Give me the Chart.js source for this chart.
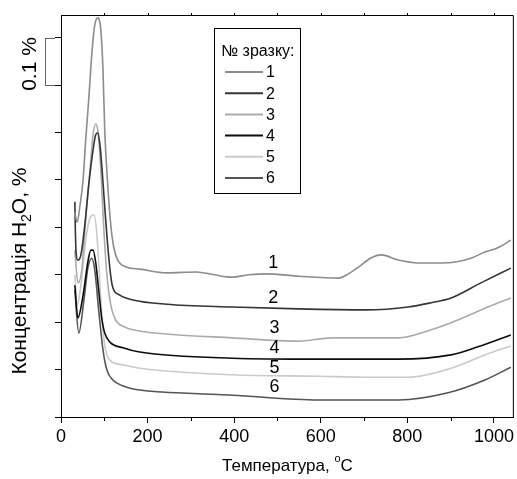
<!DOCTYPE html>
<html><head><meta charset="utf-8">
<script src="https://cdn.jsdelivr.net/npm/chart.js@4"></script>
<style>html,body{margin:0;padding:0;background:#fff}</style>
</head><body>
<canvas id="c" width="517" height="479"></canvas>
<script>
// ---- data (temperature °C, H2O concentration in % with vertical offsets) ----
const seriesNames = ['1', '2', '3', '4', '5', '6'];
const xTicks = [0, 200, 400, 600, 800, 1000];

const temps1 = [32, 37, 44, 51, 57, 64, 71, 78, 85, 92, 97, 101, 108, 115, 122, 131, 152, 182, 244, 313, 354, 395, 434, 474, 549, 641, 664, 687, 715, 740, 779, 825, 871, 910, 947, 979, 1009, 1039];
const conc1  = [0.432, 0.411, 0.447, 0.500, 0.584, 0.669, 0.764, 0.827, 0.842, 0.816, 0.732, 0.605, 0.489, 0.405, 0.357, 0.331, 0.316, 0.312, 0.304, 0.306, 0.300, 0.295, 0.300, 0.302, 0.297, 0.293, 0.302, 0.316, 0.335, 0.342, 0.331, 0.325, 0.325, 0.327, 0.335, 0.348, 0.357, 0.373];

const temps2 = [32, 33, 35, 39, 46, 55, 64, 74, 80, 85, 90, 95, 101, 110, 116, 120, 136, 166, 244, 395, 549, 703, 802, 855, 901, 970, 1039];
const conc2  = [0.454, 0.400, 0.345, 0.331, 0.342, 0.405, 0.489, 0.563, 0.595, 0.599, 0.574, 0.520, 0.443, 0.340, 0.290, 0.272, 0.257, 0.247, 0.238, 0.232, 0.228, 0.226, 0.232, 0.241, 0.251, 0.283, 0.314];

const temps3 = [32, 39, 48, 57, 67, 74, 80, 85, 92, 99, 106, 115, 126, 147, 166, 244, 395, 549, 625, 779, 855, 933, 986, 1039];
const conc3  = [0.352, 0.283, 0.310, 0.416, 0.521, 0.595, 0.618, 0.605, 0.521, 0.395, 0.300, 0.236, 0.205, 0.190, 0.184, 0.175, 0.167, 0.160, 0.167, 0.167, 0.184, 0.211, 0.232, 0.251];

const temps4 = [32, 39, 51, 62, 69, 74, 80, 87, 94, 101, 113, 143, 182, 395, 595, 779, 901, 963, 1039];
const conc4  = [0.278, 0.209, 0.257, 0.327, 0.352, 0.352, 0.327, 0.268, 0.209, 0.177, 0.158, 0.146, 0.137, 0.124, 0.122, 0.122, 0.131, 0.148, 0.173];

const temps5 = [32, 37, 46, 57, 67, 76, 83, 90, 97, 103, 113, 143, 182, 395, 595, 703, 802, 901, 979, 1039];
const conc5  = [0.300, 0.236, 0.278, 0.373, 0.420, 0.426, 0.384, 0.278, 0.184, 0.141, 0.120, 0.110, 0.103, 0.089, 0.086, 0.084, 0.084, 0.103, 0.131, 0.150];

const temps6 = [32, 41, 53, 62, 71, 78, 87, 97, 106, 120, 152, 182, 320, 395, 595, 779, 894, 979, 1039];
const conc6  = [0.268, 0.177, 0.247, 0.314, 0.335, 0.310, 0.226, 0.141, 0.099, 0.078, 0.063, 0.057, 0.049, 0.046, 0.036, 0.036, 0.051, 0.078, 0.105];

// curve label anchors (data space)
const labelTemps = [490, 490, 493, 493, 493, 493];
const labelConc  = [0.325, 0.251, 0.188, 0.146, 0.103, 0.063];

// ---- styling ----
const FONT = '"Liberation Sans", Arial, sans-serif';
const colors = ['#8c8c8c', '#353535', '#ababab', '#0c0c0c', '#cacaca', '#555555'];
const allT = [temps1, temps2, temps3, temps4, temps5, temps6];
const allC = [conc1, conc2, conc3, conc4, conc5, conc6];

const datasets = allT.map((t, k) => ({
  label: seriesNames[k],
  data: t.map((v, i) => ({x: v, y: allC[k][i]})),
  borderColor: colors[k],
  borderWidth: 1.6,
  pointRadius: 0,
  fill: false,
  cubicInterpolationMode: 'monotone'
}));

// draws text pieces (with sub/superscripts) centred on cx, baseline at cy (in rotated frame)
function drawRich(ctx, parts, cx, cy, rot) {
  ctx.save();
  ctx.translate(cx, cy);
  if (rot) ctx.rotate(rot);
  let W = 0;
  parts.forEach(p => { ctx.font = p.size + 'px ' + FONT; p.w = ctx.measureText(p.t).width; W += p.w; });
  let xx = -W / 2;
  ctx.textBaseline = 'alphabetic';
  ctx.textAlign = 'left';
  parts.forEach(p => { ctx.font = p.size + 'px ' + FONT; ctx.fillText(p.t, xx, p.dy || 0); xx += p.w; });
  ctx.restore();
}

const deco = {
  id: 'deco',
  afterDraw(chart) {
    const {ctx, chartArea: a, scales: {x, y}} = chart;
    ctx.save();
    ctx.strokeStyle = '#000';
    ctx.lineWidth = 1;
    // top and right frame
    ctx.beginPath();
    ctx.moveTo(a.left, a.top + 0.5); ctx.lineTo(a.right - 0.5, a.top + 0.5); ctx.lineTo(a.right - 0.5, a.bottom);
    ctx.stroke();
    // minor ticks on bottom, small ticks on top
    ctx.beginPath();
    for (let v = 100; v <= 1000; v += 200) {
      const px = Math.round(x.getPixelForValue(v)) + 0.5;
      ctx.moveTo(px, a.bottom); ctx.lineTo(px, a.bottom + 4);
    }
    for (let v = 100; v <= 1000; v += 100) {
      const px = Math.round(x.getPixelForValue(v)) + 0.5;
      ctx.moveTo(px, a.top); ctx.lineTo(px, a.top - 2);
    }
    ctx.stroke();
    // scale bar 0.1 %
    const yb1 = Math.round(y.getPixelForValue(0.8)) + 0.5, yb2 = Math.round(y.getPixelForValue(0.7)) + 0.5;
    ctx.strokeStyle = '#666';
    ctx.beginPath();
    ctx.moveTo(45.5, yb1); ctx.lineTo(45.5, yb2);
    ctx.moveTo(45, yb1); ctx.lineTo(55, yb1);
    ctx.moveTo(45, yb2); ctx.lineTo(55, yb2);
    ctx.stroke();
    ctx.fillStyle = '#000';
    drawRich(ctx, [{t: '0.1 %', size: 21}], 36, (yb1 + yb2) / 2 + 2, -Math.PI / 2);
    // curve labels
    ctx.font = '18px ' + FONT;
    ctx.textAlign = 'center'; ctx.textBaseline = 'middle';
    seriesNames.forEach((n, k) => {
      ctx.fillText(n, x.getPixelForValue(labelTemps[k]), y.getPixelForValue(labelConc[k]));
    });
    // legend box
    ctx.strokeStyle = '#000';
    ctx.strokeRect(214.5, 28.5, 86, 165);
    ctx.font = '16px ' + FONT;
    ctx.textAlign = 'left'; ctx.textBaseline = 'middle';
    ctx.fillText('№ зразку:', 221, 52);
    ctx.font = '16px ' + FONT;
    seriesNames.forEach((n, k) => {
      const yy = 72 + k * 21.2;
      ctx.strokeStyle = colors[k];
      ctx.lineWidth = 2;
      ctx.beginPath(); ctx.moveTo(225, yy); ctx.lineTo(263, yy); ctx.stroke();
      ctx.fillText(n, 266, yy + 1);
    });
    // axis titles
    ctx.fillStyle = '#000';
    drawRich(ctx, [
      {t: 'Температура, ', size: 17},
      {t: 'o', size: 11, dy: -9},
      {t: 'C', size: 17}
    ], (a.left + a.right) / 2, 471, 0);
    drawRich(ctx, [
      {t: 'Концентрація H', size: 21},
      {t: '2', size: 14, dy: 5},
      {t: 'O, %', size: 21}
    ], 26, 271, -Math.PI / 2);
    ctx.restore();
  }
};

new Chart(document.getElementById('c'), {
  type: 'line',
  data: {datasets},
  options: {
    responsive: false,
    animation: false,
    devicePixelRatio: 1,
    layout: {padding: {top: 15, right: 1, left: 0, bottom: 0}},
    plugins: {legend: {display: false}, tooltip: {enabled: false}},
    scales: {
      x: {
        type: 'linear', min: 0, max: 1046,
        afterFit(s) { s.height = 62; },
        afterBuildTicks(s) { s.ticks = xTicks.map(v => ({value: v})); },
        ticks: {font: {family: FONT, size: 18}, color: '#000', padding: 3, maxRotation: 0, autoSkip: false,
                callback: v => String(v)},
        grid: {drawOnChartArea: false, tickLength: 6, color: '#000'},
        border: {color: '#000', width: 1}
      },
      y: {
        type: 'linear', min: 0, max: 0.848,
        afterFit(s) { s.width = 61; },
        ticks: {stepSize: 0.1, includeBounds: false, display: false},
        grid: {drawOnChartArea: false, tickLength: 6, color: '#000'},
        border: {color: '#000', width: 1}
      }
    }
  },
  plugins: [deco]
});
</script>
</body></html>
